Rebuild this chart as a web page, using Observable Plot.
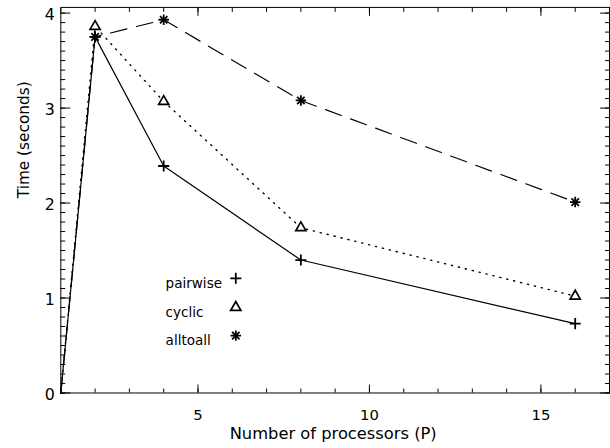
<!DOCTYPE html>
<html><head><meta charset="utf-8">
<script src="https://cdn.jsdelivr.net/npm/d3@7"></script>
<script src="https://cdn.jsdelivr.net/npm/@observablehq/plot@0.6"></script>
<style>
html,body{margin:0;padding:0;background:#fff;width:610px;height:448px;overflow:hidden}
</style>
</head><body><div id="chart"></div>
<script>
// Data
const processors = [1, 2, 4, 8, 16];
const pairwise = [0, 3.75, 2.39, 1.40, 0.73];
const cyclic = [0, 3.86, 3.07, 1.74, 1.02];
const alltoall = [0, 3.75, 3.93, 3.08, 2.01];
const seriesNames = ["pairwise", "cyclic", "alltoall"];
const xMajorTicks = [5, 10, 15];
const xMinorTicks = d3.range(1, 18, 1);
const yMajorTicks = [0, 1, 2, 3, 4];
const yMinorTicks = d3.range(0, 41, 1).map(d => d / 10);
const xLabel = "Number of processors (P)";
const yLabel = "Time (seconds)";

const rows = (vals) => processors.map((p, i) => ({p, t: vals[i]}));
const pw = rows(pairwise), cy = rows(cyclic), aa = rows(alltoall);

const font = "'DejaVu Sans', 'Liberation Sans', sans-serif";
const legendDx = 106, legendSymDx = 177, legendDy = [274, 303.5, 332];

const legendMarks = [];
const legendSymbols = [["plus"], ["triangle"], ["plus", "times"]];
const legendSizes = [3.7, 3.8, 3.5];
seriesNames.forEach((name, i) => {
  legendMarks.push(Plot.text([name], {frameAnchor: "top-left", text: d => d, dx: legendDx, dy: legendDy[i], textAnchor: "start", fontSize: 13.7, fill: "black"}));
  legendSymbols[i].forEach(s => {
    legendMarks.push(Plot.dot([name], {frameAnchor: "top-left", dx: legendSymDx, dy: legendDy[i], symbol: s, r: legendSizes[i], stroke: "black", strokeWidth: 1.8, fill: "none"}));
  });
});

const chart = Plot.plot({
  width: 617,
  height: 448,
  marginLeft: 61,
  marginRight: 1,
  marginTop: 7,
  marginBottom: 51,
  style: {fontFamily: font, background: "white", color: "black"},
  x: {domain: [1, 17]},
  y: {domain: [0, 4.06]},
  marks: [
    Plot.frame({stroke: "black"}),
    // bottom axis
    Plot.axisX({anchor: "bottom", ticks: xMajorTicks, tickSize: 0, tickPadding: 17, fontSize: 15, label: null, tickFormat: "d"}),
    Plot.axisX({anchor: "bottom", ticks: xMajorTicks, tickSize: -8, text: null, label: null}),
    Plot.axisX({anchor: "bottom", ticks: xMinorTicks, tickSize: -4, text: null, label: null}),
    Plot.axisX({anchor: "top", ticks: xMajorTicks, tickSize: -8, text: null, label: null}),
    Plot.axisX({anchor: "top", ticks: xMinorTicks, tickSize: -4, text: null, label: null}),
    // left axis
    Plot.axisY({anchor: "left", ticks: yMajorTicks, tickSize: 0, tickPadding: 6, dy: 2, fontSize: 16, label: null, tickFormat: "d"}),
    Plot.axisY({anchor: "left", ticks: yMajorTicks, tickSize: -10, text: null, label: null}),
    Plot.axisY({anchor: "left", ticks: yMinorTicks, tickSize: -5, text: null, label: null}),
    Plot.axisY({anchor: "right", ticks: yMajorTicks, tickSize: -10, text: null, label: null}),
    Plot.axisY({anchor: "right", ticks: yMinorTicks, tickSize: -5, text: null, label: null}),
    // titles
    Plot.text([xLabel], {frameAnchor: "bottom", text: d => d, dy: 41, lineAnchor: "middle", fontSize: 16.5, letterSpacing: "0.9px", dx: -2}),
    Plot.text([yLabel], {frameAnchor: "left", text: d => d, dx: -37, dy: -2, rotate: -90, fontSize: 15.5, letterSpacing: "0.3px"}),
    // series lines
    Plot.line(pw, {x: "p", y: "t", stroke: "black", strokeWidth: 1.2}),
    Plot.line(cy, {x: "p", y: "t", stroke: "black", strokeWidth: 1.4, strokeDasharray: "1.2,6", strokeLinecap: "round"}),
    Plot.line(aa, {x: "p", y: "t", stroke: "black", strokeWidth: 1.2, strokeDasharray: "17,10"}),
    // series symbols
    Plot.dot(pw.slice(1), {x: "p", y: "t", symbol: "plus", r: 3.7, stroke: "black", strokeWidth: 1.8}),
    Plot.dot(cy.slice(1), {x: "p", y: "t", symbol: "triangle", r: 3.8, stroke: "black", strokeWidth: 1.7, fill: "white"}),
    Plot.dot(aa.slice(1), {x: "p", y: "t", symbol: "plus", r: 3.5, stroke: "black", strokeWidth: 1.8}),
    Plot.dot(aa.slice(1), {x: "p", y: "t", symbol: "times", r: 3.5, stroke: "black", strokeWidth: 1.8}),
    ...legendMarks
  ]
});
document.getElementById("chart").appendChild(chart);
</script>
</body></html>
